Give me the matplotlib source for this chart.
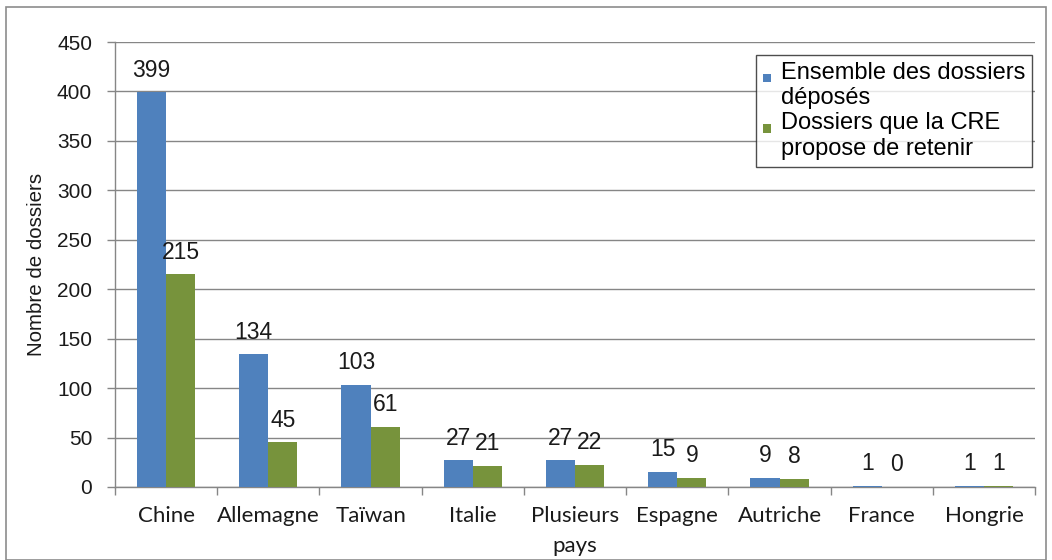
import matplotlib
matplotlib.use("Agg")
import matplotlib.pyplot as plt
import numpy as np
from matplotlib.patches import Rectangle
from matplotlib.container import BarContainer
from matplotlib.legend_handler import HandlerPatch, update_from_first_child

categories = ["Chine", "Allemagne", "Taïwan", "Italie", "Plusieurs\npays",
              "Espagne", "Autriche", "France", "Hongrie"]
deposes = [399, 134, 103, 27, 27, 15, 9, 1, 1]
retenus = [215, 45, 61, 21, 22, 9, 8, 0, 1]
series_labels = ["Ensemble des dossiers\ndéposés",
                 "Dossiers que la CRE\npropose de retenir"]
yticks = [0, 50, 100, 150, 200, 250, 300, 350, 400, 450]

blue = "#4F81BD"
green = "#77933C"
grid_col = "#868686"
text_col = "#1a1a1a"

fig = plt.figure(figsize=(10.52, 5.6), dpi=100)
fig.patches.append(Rectangle((0.006, 0.0), 0.988, 0.988, transform=fig.transFigure,
                             fill=False, edgecolor="#8c8c8c", linewidth=1.2))
ax = fig.add_axes([0.1093, 0.1304, 0.8747, 0.7946])

x = np.arange(len(categories))
w = 0.285
b1 = ax.bar(x - w / 2, deposes, w, color=blue, label=series_labels[0], zorder=3)
b2 = ax.bar(x + w / 2, retenus, w, color=green, label=series_labels[1], zorder=3)

lab_font = dict(family="Liberation Sans", fontsize=16.5, color=text_col)
for bars, vals in ((b1, deposes), (b2, retenus)):
    for rect, v in zip(bars, vals):
        ax.annotate(str(v), (rect.get_x() + rect.get_width() / 2, v),
                    xytext=(0, 16), textcoords="offset points",
                    ha="center", va="center", **lab_font)

ax.set_xlim(-0.5, len(categories) - 0.5)
ax.set_ylim(0, 450)
ax.set_yticks(yticks)
ax.set_yticklabels([str(t) for t in yticks], family="Liberation Sans",
                   fontsize=15, color=text_col)
ax.yaxis.grid(True, color=grid_col, linewidth=1.0, zorder=0)
ax.set_axisbelow(True)

# category boundaries carry the tick marks, labels sit at the centres
ax.set_xticks(np.arange(len(categories) + 1) - 0.5)
ax.set_xticklabels([])
ax.set_xticks(x, minor=True)
ax.set_xticklabels(categories, minor=True, family="Lato", fontsize=16,
                   color=text_col, linespacing=1.6)
ax.tick_params(axis="x", which="major", length=6, color=grid_col, width=1)
ax.tick_params(axis="x", which="minor", length=0, pad=14)
ax.tick_params(axis="y", length=6, color=grid_col, width=1, pad=10.5)

for s in ["top", "right"]:
    ax.spines[s].set_visible(False)
for s in ["left", "bottom"]:
    ax.spines[s].set_color(grid_col)
    ax.spines[s].set_linewidth(1.0)

ax.set_ylabel("Nombre de dossiers", family="Liberation Sans", fontsize=14.8,
              color=text_col, labelpad=8)


def top_square(legend, orig_handle, xdescent, ydescent, width, height, fontsize):
    # small square aligned with the first line of a two-line label
    s = width
    return Rectangle((-xdescent, -ydescent + height - s * 1.6), s, s)


leg = ax.legend(loc="upper right", bbox_to_anchor=(0.9967, 0.971),
                prop=dict(family="Liberation Sans", size=17),
                frameon=True, fancybox=False, edgecolor="#222222",
                handlelength=0.35, handleheight=1.9, handletextpad=0.4,
                borderpad=0.3, labelspacing=0.12, borderaxespad=0,
                handler_map={BarContainer: HandlerPatch(
                    patch_func=top_square, update_func=update_from_first_child)})
leg.get_frame().set_linewidth(1.0)

fig.savefig("out.png", dpi=100)
